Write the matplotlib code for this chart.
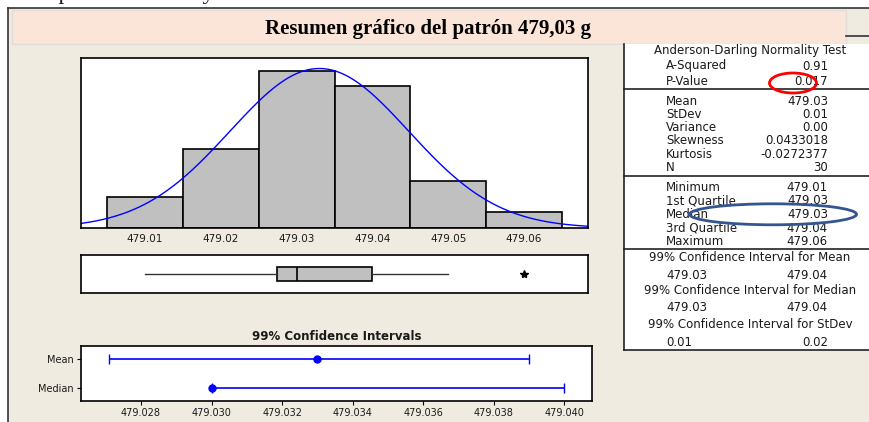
import numpy as np
import matplotlib
matplotlib.use("Agg")
import matplotlib.pyplot as plt
from matplotlib.patches import Rectangle, Ellipse

# figure size in pixels, everything below is laid out in pixel coords
W, H = 870, 422

# histogram data (counts per 0.01 g bin)
bin_centers = [479.01, 479.02, 479.03, 479.04, 479.05, 479.06]
counts = [2, 5, 10, 9, 3, 1]
fit_mean = 479.033
fit_sd = 0.0118
n_obs = 30

# boxplot summary
box_low = 479.010
box_q1 = 479.0274
box_med = 479.030
box_q3 = 479.040
box_high = 479.050
box_outliers = [479.060]

# 99% confidence intervals
ci_labels = ["Mean", "Median"]
ci_center = [479.0330, 479.0300]
ci_low = [479.0271, 479.0300]
ci_high = [479.0390, 479.0400]
ci_ticks = [479.028, 479.030, 479.032, 479.034, 479.036, 479.038, 479.040]

# stats table
ad_rows = [("A-Squared", "0.91"), ("P-Value", "0.017")]
desc_rows = [("Mean", "479.03"), ("StDev", "0.01"), ("Variance", "0.00"),
             ("Skewness", "0.0433018"), ("Kurtosis", "-0.0272377"), ("N", "30")]
quart_rows = [("Minimum", "479.01"), ("1st Quartile", "479.03"), ("Median", "479.03"),
              ("3rd Quartile", "479.04"), ("Maximum", "479.06")]
ci_rows = [("99% Confidence Interval for Mean", "479.03", "479.04"),
           ("99% Confidence Interval for Median", "479.03", "479.04"),
           ("99% Confidence Interval for StDev", "0.01", "0.02")]

BEIGE = "#EFEBE1"
PINK = "#FAE5D8"
GREY = "#C0C0C0"
TXT = "#1A1A1A"
BLUE = "#0000FF"


def px_axes(x0, y0, x1, y1):
    return fig.add_axes([x0 / W, 1 - y1 / H, (x1 - x0) / W, (y1 - y0) / H])


fig = plt.figure(figsize=(W / 100, H / 100), dpi=100)
fig.patch.set_facecolor("white")

# background layer in pixel coordinates
bg = fig.add_axes([0, 0, 1, 1])
bg.set_xlim(0, W)
bg.set_ylim(H, 0)
bg.axis("off")

bg.add_patch(Rectangle((8, 7.5), W - 8, H, fc=BEIGE, ec="none"))
bg.plot([8, 8], [7.5, H], color="#333333", lw=1.2)
bg.plot([8, W], [7.5, 7.5], color="#333333", lw=1.2)
bg.add_patch(Rectangle((12, 9.5), 834, 34.5, fc=PINK, ec="#E2DDD8", lw=1))
bg.plot([846, W], [35.7, 35.7], color="#333333", lw=1.2)

# window caption, mostly scrolled off the top
bg.text(23, -1.5, "Graphical Summary", family="Liberation Serif", fontsize=17,
        va="baseline", ha="left", color=TXT)
bg.text(428.5, 29, "Resumen gráfico del patrón 479,03 g", family="Liberation Serif",
        fontsize=15, fontweight="bold", ha="center", va="center", color="black")

# stats panel
bg.add_patch(Rectangle((624, 44), 260, 306, fc="white", ec="none"))
bg.plot([624, 624], [44, 350], color="#222222", lw=1.2)
for ysep in [89.3, 176, 249, 350]:
    bg.plot([624, W], [ysep, ysep], color="#222222", lw=1.2)

fs = 8.5
bg.text(750, 50.7, "Anderson-Darling Normality Test", fontsize=fs, ha="center",
        va="center", color=TXT)
for rows, ys in [(ad_rows, [66, 81.7]),
                 (desc_rows, [101.7, 114.3, 127.3, 141, 154, 167.3]),
                 (quart_rows, [187.3, 200.7, 215, 228.3, 241.3])]:
    for (lab, val), y in zip(rows, ys):
        bg.text(666, y, lab, fontsize=fs, ha="left", va="center", color=TXT)
        bg.text(828, y, val, fontsize=fs, ha="right", va="center", color=TXT)

for (head, lo, hi), yh, yv in zip(ci_rows, [257.3, 291, 324], [275.7, 307.7, 342.3]):
    bg.text(750, yh, head, fontsize=fs, ha="center", va="center", color=TXT)
    bg.text(666, yv, lo, fontsize=fs, ha="left", va="center", color=TXT)
    bg.text(828, yv, hi, fontsize=fs, ha="right", va="center", color=TXT)

# histogram with fitted normal curve
ax = px_axes(81, 58, 588, 228)
ax.bar(bin_centers, counts, width=0.01, color=GREY, edgecolor="black", lw=1.2)
ax.set_xlim(479.00156, 479.06844)
ax.set_ylim(0, 10.81)
xs = np.linspace(479.00156, 479.06844, 300)
pdf = np.exp(-0.5 * ((xs - fit_mean) / fit_sd) ** 2) / (fit_sd * np.sqrt(2 * np.pi))
ax.plot(xs, n_obs * 0.01 * pdf, color=BLUE, lw=1)
ax.set_xticks(bin_centers)
ax.set_xticklabels([f"{v:.2f}" for v in bin_centers], fontsize=7.5, color=TXT)
ax.set_yticks([])
ax.tick_params(axis="x", length=0, pad=4)
for sp in ax.spines.values():
    sp.set_linewidth(1.2)

# boxplot
bx = px_axes(81, 255, 588, 293)
bx.bxp([dict(whislo=box_low, q1=box_q1, med=box_med, q3=box_q3, whishi=box_high,
             fliers=box_outliers)],
       orientation="horizontal", widths=0.37, showcaps=False, patch_artist=True,
       boxprops=dict(facecolor=GREY, edgecolor="black", lw=1.2),
       medianprops=dict(color="black", lw=1.2),
       whiskerprops=dict(color="#333333", lw=1),
       flierprops=dict(marker="*", markersize=6, markerfacecolor="black",
                       markeredgecolor="black"))
bx.set_xlim(479.00156, 479.06844)
bx.set_ylim(0.5, 1.5)
bx.set_xticks([])
bx.set_yticks([])
for sp in bx.spines.values():
    sp.set_linewidth(1.2)

# confidence intervals
cx = px_axes(81, 346, 592, 400.7)
ypos = [2, 1]
for c, lo, hi, y in zip(ci_center, ci_low, ci_high, ypos):
    cx.errorbar([c], [y], xerr=[[c - lo], [hi - c]], fmt="o", color=BLUE, ms=5,
                capsize=3.5, elinewidth=1.2, capthick=1)
cx.set_xlim(479.0263, 479.04078)
cx.set_ylim(0.55, 2.45)
cx.set_xticks(ci_ticks)
cx.set_xticklabels([f"{v:.3f}" for v in ci_ticks], fontsize=7, color=TXT)
cx.set_yticks(ypos)
cx.set_yticklabels(ci_labels, fontsize=7, color=TXT)
cx.tick_params(length=3, pad=2)
for sp in cx.spines.values():
    sp.set_linewidth(1.2)
bg.text(336.5, 336, "99% Confidence Intervals", fontsize=8.5, fontweight="bold",
        ha="center", va="center", color=TXT)

# hand-drawn highlight ellipses on top
ov = fig.add_axes([0, 0, 1, 1])
ov.set_xlim(0, W)
ov.set_ylim(H, 0)
ov.axis("off")
ov.patch.set_alpha(0)
ov.add_patch(Ellipse((793, 83), 47, 20, fc="none", ec="red", lw=2))
ov.add_patch(Ellipse((773, 214.3), 167, 21, fc="none", ec="#34558F", lw=2))

fig.savefig("out.png", dpi=100)
